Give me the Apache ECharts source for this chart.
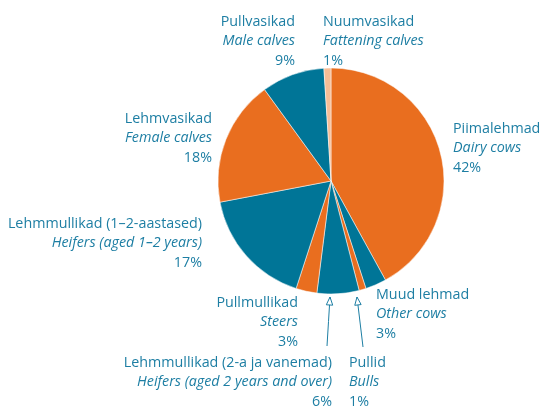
<!DOCTYPE html>
<html>
<head>
<meta charset="utf-8">
<title>Veiste struktuur</title>
<script src="https://cdn.jsdelivr.net/npm/echarts@6/dist/echarts.min.js"></script>
<style>
  html, body { margin: 0; padding: 0; background: #fff; }
  #chart { width: 542px; height: 407px; }
</style>
</head>
<body>
<div id="chart"></div>
<script>
// Cattle structure by group, share of herd (%)
const namesEt = ['Piimalehmad', 'Muud lehmad', 'Pullid', 'Lehmmullikad (2-a ja vanemad)', 'Pullmullikad',
  'Lehmmullikad (1–2-aastased)', 'Lehmvasikad', 'Pullvasikad', 'Nuumvasikad'];
const namesEn = ['Dairy cows', 'Other cows', 'Bulls', 'Heifers (aged 2 years and over)', 'Steers',
  'Heifers (aged 1–2 years)', 'Female calves', 'Male calves', 'Fattening calves'];
const shares = [42, 3, 1, 6, 3, 17, 18, 9, 1];

const ORANGE = '#e96e1f';
const TEAL = '#007597';
const PEACH = '#f6bd96';
const TEXT = '#1d7ea3';
const sliceColors = [ORANGE, TEAL, ORANGE, TEAL, ORANGE, TEAL, ORANGE, TEAL, PEACH];

// label anchor: [x, top y, align]
const labelAnchors = [
  [453, 119, 'left'],
  [376, 285, 'left'],
  [349, 353, 'left'],
  [332, 353, 'right'],
  [298, 293, 'right'],
  [202, 214, 'right'],
  [212, 109, 'right'],
  [295, 12, 'right'],
  [323, 12, 'left']
];
// arrows for the two labels below the pie: [from, to]
const arrows = {
  3: [[327, 346], [330, 297]],
  2: [[363, 347], [357, 297]]
};

const chart = echarts.init(document.getElementById('chart'));

const data = shares.map((v, i) => ({
  value: v,
  name: namesEt[i],
  en: namesEn[i],
  itemStyle: { color: sliceColors[i] },
  labelLine: { show: !!arrows[i] }
}));

// hollow arrowheads
const heads = Object.keys(arrows).map(k => {
  const [from, to] = arrows[k];
  const ang = Math.atan2(to[1] - from[1], to[0] - from[0]);
  const len = 8, half = 3.2;
  const bx = to[0] - len * Math.cos(ang), by = to[1] - len * Math.sin(ang);
  const px = -Math.sin(ang) * half, py = Math.cos(ang) * half;
  return {
    type: 'polygon',
    shape: { points: [to, [bx + px, by + py], [bx - px, by - py]] },
    style: { fill: '#fff', stroke: TEXT, lineWidth: 1 },
    z: 100
  };
});

const option = {
  animation: false,
  textStyle: { fontFamily: 'Open Sans' },
  graphic: heads,
  series: [
    {
      type: 'pie',
      center: [331, 181],
      radius: [0, 113],
      startAngle: 90,
      clockwise: true,
      data: data,
      itemStyle: { borderColor: '#fff', borderWidth: 0.5 },
      label: {
        show: true,
        position: 'outside',
        overflow: 'none',
        formatter: p => `{a|${p.name}}\n{b|${p.data.en}}\n{a|${p.value}%}`,
        color: TEXT,
        rich: {
          a: { fontSize: 14.3, lineHeight: 19.5, color: TEXT, fontFamily: 'Open Sans' },
          b: { fontSize: 14.3, lineHeight: 19.5, color: TEXT, fontStyle: 'italic', fontFamily: 'Open Sans' }
        }
      },
      labelLine: { lineStyle: { color: TEXT, width: 1 } },
      labelLayout: params => {
        const a = labelAnchors[params.dataIndex];
        const res = { x: a[0], y: a[1], align: a[2], verticalAlign: 'top', width: 300 };
        const arr = arrows[params.dataIndex];
        if (arr) {
          const mid = [(arr[0][0] + arr[1][0]) / 2, (arr[0][1] + arr[1][1]) / 2];
          res.labelLinePoints = [arr[0], mid, arr[1]];
        }
        return res;
      }
    }
  ]
};

chart.setOption(option);
</script>
</body>
</html>
